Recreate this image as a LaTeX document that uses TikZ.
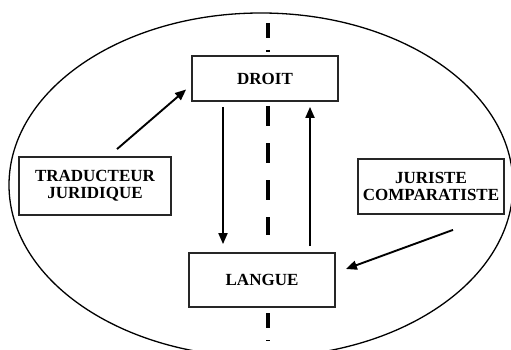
\documentclass[tikz,border=0pt]{standalone}
\usepackage{fontspec}
\setmainfont{Liberation Serif}
\usepackage{tikz}
\usetikzlibrary{arrows.meta,positioning}
\colorlet{boxline}{black!85}
\colorlet{axisline}{black}

\begin{document}
\begin{tikzpicture}[x=1pt,y=-1pt,
    box/.style={draw=boxline, line width=1.8pt, fill=white, align=center,
        font=\fontsize{17}{17}\selectfont\bfseries, inner sep=0pt},
    link/.style={line width=1.9pt, -{Triangle[length=11pt,width=9pt]}},
    axis/.style={axisline, line width=3.8pt}]
        \useasboundingbox (0,0) rectangle (511,350);
        \draw[line width=1.3pt] (261,185) ellipse [x radius=252, y radius=172];
        % dashed middle axis
        \foreach \a/\b/\on/\off in {23/52/15/12, 106/235/20/17, 313/341/15/12}{
            \draw[axis, dash pattern=on \on pt off \off pt] (268,\a) -- (268,\b);
        }
        \node[box, minimum width=146pt, minimum height=45pt] (droit) at (265,78.5) {DROIT};
        \node[box, minimum width=146pt, minimum height=54pt] (langue) at (262,280) {LANGUE};
        \node[box, minimum width=152pt, minimum height=58pt] (tradu) at (95,186) {TRADUCTEUR\\JURIDIQUE};
        \node[box, minimum width=146pt, minimum height=55pt] (juriste) at (431,186.5) {JURISTE\\COMPARATISTE};
        % arrows
        \draw[link] ([xshift=-42pt,yshift=-5pt]droit.south) -- ([xshift=-39pt,yshift=8pt]langue.north);
        \draw[link] ([xshift=48pt,yshift=6pt]langue.north) -- ([xshift=45pt,yshift=-5pt]droit.south);
        \draw[link] ([xshift=22pt,yshift=7pt]tradu.north) -- ([xshift=-5pt,yshift=-11pt]droit.west);
        \draw[link] ([xshift=22pt,yshift=-15pt]juriste.south) -- ([xshift=10pt,yshift=11pt]langue.east);
    \end{tikzpicture}
\end{document}
